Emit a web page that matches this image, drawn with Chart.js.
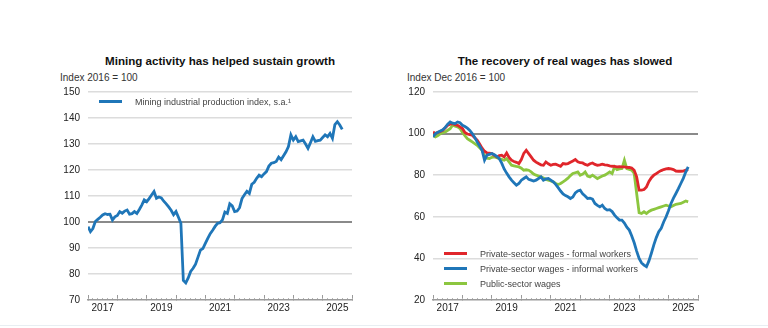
<!DOCTYPE html>
<html>
<head>
<meta charset="utf-8">
<title>Mining activity and real wages</title>
<script src="https://cdn.jsdelivr.net/npm/chart.js@4.4.1/dist/chart.umd.min.js"></script>
<style>
    body { margin: 0; width: 768px; height: 328px; background: #fff; position: relative; overflow: hidden;
           font-family: Arial, "Liberation Sans", sans-serif; color: #222; }
    .panel { position: absolute; top: 0; width: 384px; height: 328px; }
    .title { position: absolute; top: 54px; font-weight: bold; font-size: 11.6px; line-height: 14px;
             white-space: nowrap; transform: translateX(-50%); color: #111; }
    .sub { position: absolute; top: 72px; font-size: 10px; line-height: 12px; white-space: nowrap; color: #333; }
    .legend { position: absolute; font-size: 9px; color: #444; }
    .legend div { display: flex; align-items: center; height: 15px; white-space: nowrap; }
    .legend i { display: inline-block; width: 23px; height: 3px; margin-right: 13px; }
    .rule { position: absolute; left: 0; right: 0; top: 325px; height: 1px; background: #e8eef2; }
</style>
</head>
<body>
<div class="title" style="left:220px">Mining activity has helped sustain growth</div>
<div class="sub" style="left:60px">Index 2016 = 100</div>
<div class="title" style="left:565px">The recovery of real wages has slowed</div>
<div class="sub" style="left:407px">Index Dec 2016 = 100</div>

<canvas id="miningChart" class="panel" style="left:0" width="384" height="328"></canvas>
<canvas id="wagesChart" class="panel" style="left:384px" width="384" height="328"></canvas>
<div id="miningLegend" class="legend" style="left:99px;top:94px"></div>
<div id="wagesLegend" class="legend" style="left:444px;top:246px"></div>
<div class="rule"></div>

<script>
Chart.defaults.font.family = 'Arial, "Liberation Sans", sans-serif';
Chart.defaults.font.size = 10;
Chart.defaults.color = '#222';

// monthly series, first point = Jan 2017
const startYear = 2017;
const yearLabels = ['2017', '2019', '2021', '2023', '2025'];

const miningIndex = [
    98.2, 96.3, 97.5, 100.2, 101.0, 101.8, 102.7, 103.2, 102.9, 103.0, 100.8, 102.0,
    102.5, 104.0, 103.4, 104.2, 104.6, 103.0, 103.2, 104.0, 103.3, 104.8, 106.5, 108.5,
    107.8, 109.0, 110.4, 111.7, 109.1, 109.6, 109.3, 108.0, 107.0, 105.8, 104.5, 102.8,
    104.0, 101.8, 99.5, 77.5, 76.6, 78.5, 81.0, 82.2, 83.8, 86.5, 89.2, 89.8,
    91.8, 93.7, 95.5, 96.8, 98.3, 99.5, 99.7, 100.8, 103.8, 103.3, 107.0, 106.2,
    104.0, 104.2, 105.5, 109.0, 110.5, 111.8, 111.0, 114.5, 115.3, 116.8, 118.0, 117.4,
    118.5, 119.4, 121.5, 122.6, 122.8, 123.3, 125.0, 124.0, 125.5, 127.0, 129.0, 133.5,
    131.5, 132.8, 130.9, 131.2, 131.5, 130.0, 128.3, 130.5, 132.8, 131.0, 131.3, 131.5,
    132.5, 133.5, 132.8, 134.1, 132.2, 137.5, 138.6, 137.3, 135.6
];

const formalWages = [
    100.8, 100.0, 100.6, 101.0, 101.6, 102.8, 104.0, 104.5, 104.8, 104.3, 104.0, 103.2,
    102.4, 100.5, 99.8, 99.5, 99.2, 98.0, 96.8, 95.0, 93.0, 91.5, 90.7, 90.6,
    90.4, 89.5, 88.8, 89.4, 89.6, 88.8, 90.7, 88.5, 87.2, 86.6, 86.2, 85.6,
    87.5, 90.5, 92.0, 90.4, 88.8, 87.2, 86.3, 85.6, 85.0, 84.8, 86.4, 85.5,
    84.8, 85.2, 85.3, 84.8, 84.3, 85.6, 85.4, 85.6, 86.2, 86.8, 87.5, 86.4,
    86.0, 85.9, 85.2, 84.8, 85.5, 85.9, 85.2, 84.8, 85.0, 85.3, 85.0, 84.8,
    84.5, 84.3, 84.2, 84.0, 84.1, 84.0, 84.0, 83.8, 83.7, 83.4, 82.4, 79.2,
    72.8, 72.8, 73.1, 74.4, 77.0, 78.8, 80.0, 80.8, 81.6, 82.2, 82.7, 83.0,
    83.2, 83.0, 82.7, 82.0, 81.9, 81.9, 82.0, 82.4, 82.7
];

const informalWages = [
    98.4, 100.0, 100.6, 101.2, 101.8, 103.0, 104.5, 105.6, 105.0, 104.8, 105.6, 105.2,
    104.0, 103.4, 102.6, 101.5, 100.0, 98.2, 96.0, 94.0, 92.0, 87.2, 89.6, 90.0,
    90.4, 89.8, 89.0, 88.0, 85.8, 83.0, 81.0, 79.2, 77.6, 76.4, 75.2, 76.0,
    77.6, 78.4, 79.2, 78.0, 77.6, 77.2, 77.6, 78.4, 79.2, 77.6, 78.2, 78.4,
    77.6, 76.8, 75.6, 74.0, 72.4, 71.0, 70.2, 69.6, 68.8, 69.5, 71.5, 72.4,
    72.8, 71.0, 70.0, 68.8, 69.0, 68.5, 66.4, 65.5, 64.8, 65.6, 64.0, 63.2,
    63.4, 62.5, 60.8, 59.5, 58.4, 58.4, 57.0, 55.0, 53.6, 50.8, 47.5, 43.5,
    40.0, 37.8, 36.8, 36.0, 38.8, 42.5, 46.5, 50.0, 52.8, 54.5, 57.5, 60.0,
    63.0, 66.4, 69.0, 71.2, 73.5, 76.0, 78.5, 81.5, 84.0
];

const publicWages = [
    99.2, 98.4, 99.0, 100.0, 100.4, 100.8, 101.6, 102.4, 104.0, 103.6, 103.2, 102.4,
    100.5, 99.0, 97.6, 96.8, 96.0, 95.2, 94.4, 93.2, 92.0, 89.5, 88.2, 88.0,
    88.6, 88.8, 88.4, 88.0, 87.6, 87.2, 88.0, 86.4, 84.8, 84.5, 84.2, 84.0,
    83.4, 82.4, 82.6, 82.4, 81.6, 80.6, 80.0, 79.6, 79.2, 78.6, 78.0, 77.6,
    77.2, 76.8, 76.0, 75.5, 76.0, 76.8, 77.6, 78.6, 79.8, 80.8, 81.2, 81.6,
    80.0, 80.5, 81.6, 79.6, 79.2, 80.0, 79.2, 78.4, 79.0, 79.6, 80.0, 80.8,
    81.6, 80.8, 84.0, 82.7, 83.0, 83.2, 87.2, 83.2, 82.8, 82.4, 80.8, 71.2,
    62.0, 61.6, 62.4, 61.6, 62.6, 63.2, 63.6, 64.0, 64.4, 64.8, 65.2, 65.6,
    65.2, 64.8, 65.4, 66.0, 66.2, 66.4, 67.0, 67.6, 67.2
];

const BLUE = '#1f76b8';
const RED = '#e0262b';
const GREEN = '#8cc63f';

// month index -> fractional year on the linear x axis
const toPoints = values => values.map((v, i) => ({ x: startYear + i / 12, y: v }));

function lineSet(label, values, color, order) {
    return {
        label: label,
        data: toPoints(values),
        borderColor: color,
        backgroundColor: color,
        borderWidth: 2.8,
        pointRadius: 0,
        tension: 0,
        order: order
    };
}

function buildScales(yMin, yMax, step, yWidth) {
    return {
        x: {
            type: 'linear',
            min: 2017,
            max: 2026,
            afterFit: s => { s.height = 28; },
            afterBuildTicks: s => {
                // year boundaries plus mid-year slots for the labels
                const t = [];
                for (let y = 2017; y <= 2026; y += 0.5) t.push({ value: y });
                s.ticks = t;
            },
            ticks: {
                autoSkip: false,
                maxRotation: 0,
                padding: 7,
                color: '#222',
                callback: v => {
                    const yr = Math.floor(v);
                    return (v - yr === 0.5 && yearLabels.includes(String(yr))) ? String(yr) : '';
                }
            },
            grid: {
                drawOnChartArea: false,
                drawTicks: true,
                tickLength: -5,
                color: ctx => Number.isInteger(ctx.tick.value) ? '#9a9a9a' : 'rgba(0,0,0,0)',
                lineWidth: 1
            },
            border: { display: true, color: '#9a9a9a', width: 1.5 }
        },
        // small monthly tick marks along the bottom axis
        xm: {
            type: 'linear',
            position: { y: yMin },
            min: 0,
            max: 108,
            ticks: { display: false, stepSize: 2 },
            grid: { drawOnChartArea: false, drawTicks: true, tickLength: -2, color: '#b5b5b5', lineWidth: 1 },
            border: { display: false }
        },
        y: {
            min: yMin,
            max: yMax,
            afterFit: s => { s.width = yWidth; },
            ticks: { stepSize: step, padding: 8, color: '#222' },
            grid: {
                drawTicks: false,
                color: ctx => ctx.tick.value === 100 ? '#8a8a8a' : (ctx.tick.value === yMin ? 'rgba(0,0,0,0)' : '#dcdcdc'),
                lineWidth: ctx => ctx.tick.value === 100 ? 2 : 1.5
            },
            border: { display: false }
        }
    };
}

function makeChart(id, datasets, scales, padRight) {
    return new Chart(document.getElementById(id), {
        type: 'line',
        data: { datasets: datasets },
        options: {
            responsive: false,
            animation: false,
            devicePixelRatio: 1,
            layout: { padding: { left: 0, right: padRight, top: 92, bottom: 0 } },
            plugins: { legend: { display: false }, tooltip: { enabled: false } },
            scales: scales
        }
    });
}

function fillLegend(id, chart) {
    const box = document.getElementById(id);
    chart.data.datasets.forEach(ds => {
        const row = document.createElement('div');
        row.innerHTML = '<i style="background:' + ds.borderColor + '"></i>' + ds.label;
        box.appendChild(row);
    });
}

const miningChart = makeChart('miningChart', [
    lineSet('Mining industrial production index, s.a.\u00b9', miningIndex, BLUE, 0)
], buildScales(70, 150, 10, 88), 32);

const wagesChart = makeChart('wagesChart', [
    lineSet('Private-sector wages - formal workers', formalWages, RED, 1),
    lineSet('Private-sector wages - informal workers', informalWages, BLUE, 0),
    lineSet('Public-sector wages', publicWages, GREEN, 2)
], buildScales(20, 120, 20, 49), 70);

fillLegend('miningLegend', miningChart);
fillLegend('wagesLegend', wagesChart);
</script>
</body>
</html>
